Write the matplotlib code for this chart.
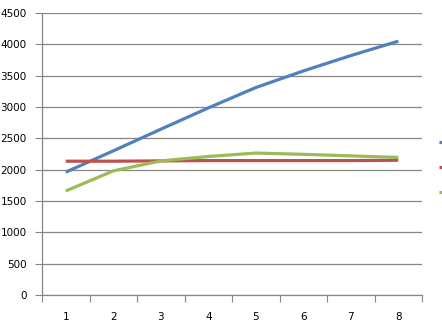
import matplotlib
matplotlib.use('Agg')
import matplotlib.pyplot as plt
import numpy as np

# values
cats = [1, 2, 3, 4, 5, 6, 7, 8]
series1 = [1960, 2300, 2645, 2985, 3310, 3575, 3820, 4050]
series2 = [2135, 2135, 2140, 2145, 2145, 2145, 2145, 2150]
series3 = [1660, 1980, 2140, 2210, 2265, 2245, 2220, 2195]
colors = ['#4F81BD', '#C0504D', '#9BBB59']
yticks = np.arange(0, 4501, 500)

grid_col = '#868686'

fig = plt.figure(figsize=(4.42, 3.30), dpi=100)
ax = fig.add_axes([42/442, 1 - 295/330, 380/442, 282/330])

lines = []
for vals, c in zip([series1, series2, series3], colors):
    ln, = ax.plot(cats, vals, color=c, lw=2.3, solid_capstyle='butt')
    lines.append(ln)

ax.set_xlim(0.5, 8.5)
ax.set_ylim(0, 4500)
ax.set_yticks(yticks)
ax.yaxis.grid(True, color=grid_col, lw=0.9)
ax.set_axisbelow(True)

# category ticks sit between categories, labels in the middle
ax.set_xticks(np.arange(0.5, 9, 1))
ax.set_xticklabels([])
ax.set_xticks(cats, minor=True)
ax.set_xticklabels([str(c) for c in cats], minor=True)
ax.tick_params(axis='x', which='major', length=5, color=grid_col, direction='out')
ax.tick_params(axis='x', which='minor', length=0, pad=12, labelsize=7.5)
ax.tick_params(axis='y', length=5, color=grid_col, labelsize=7.5, pad=6)

for s in ['top', 'right']:
    ax.spines[s].set_visible(False)
for s in ['left', 'bottom']:
    ax.spines[s].set_color(grid_col)
    ax.spines[s].set_linewidth(0.9)

# legend is cut off by the right edge in the original, only the line keys show
fig.legend(lines, ['', '', ''], loc='center left',
           bbox_to_anchor=(439/442, 1 - 168/330),
           frameon=False, fontsize=7.5, handlelength=2, labelspacing=1.45,
           borderpad=0, borderaxespad=0, handletextpad=0.5)

fig.savefig('out.png', dpi=100)
